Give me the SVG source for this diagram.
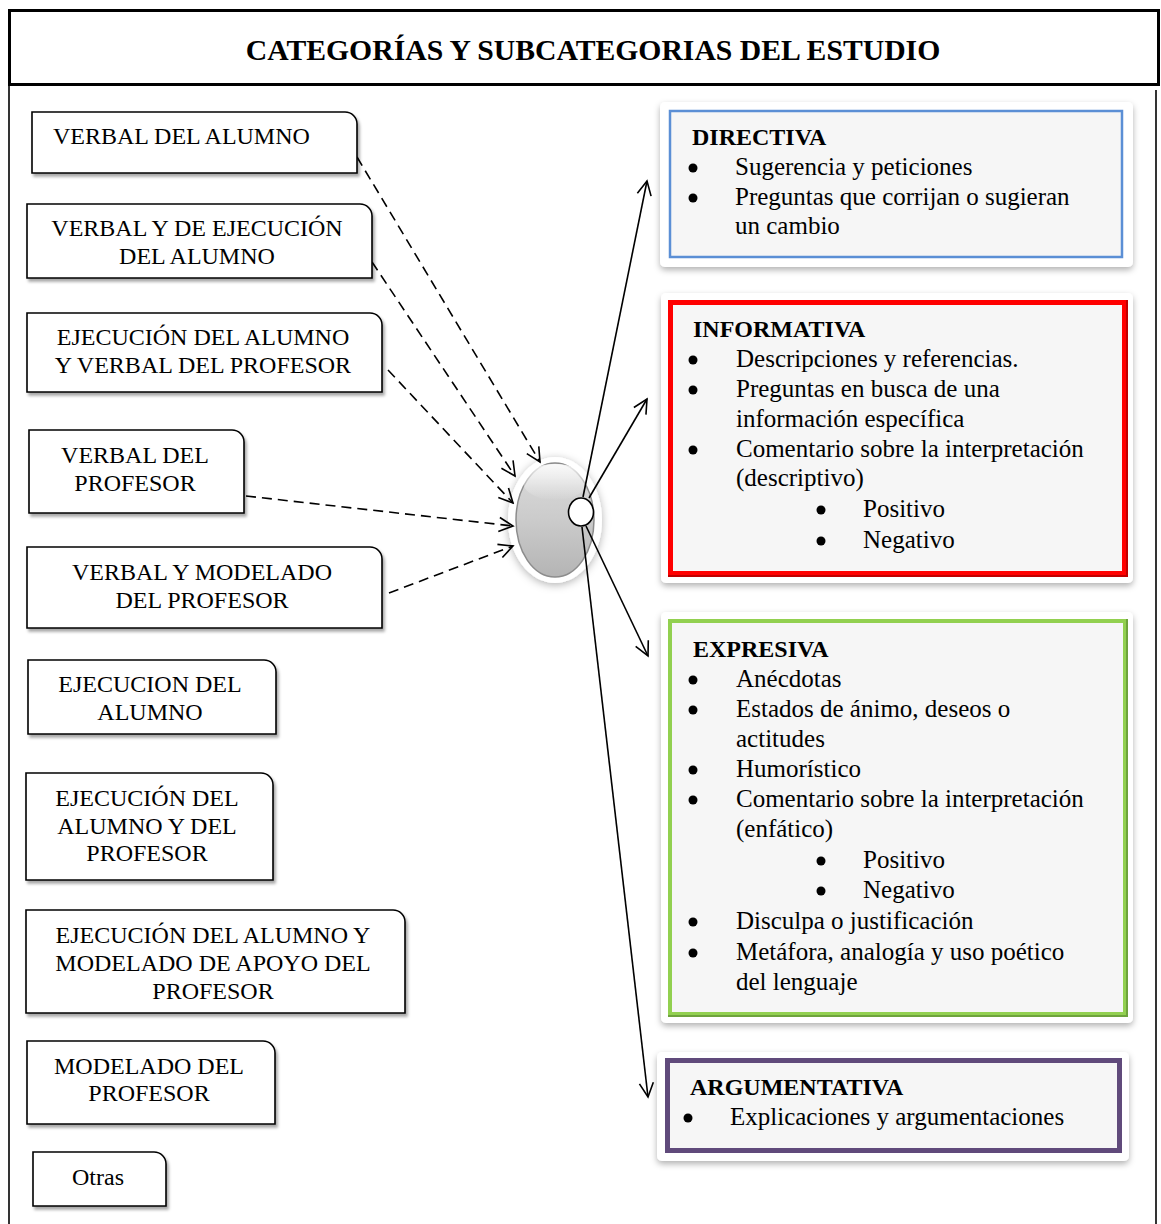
<svg xmlns="http://www.w3.org/2000/svg" width="1161" height="1224" viewBox="0 0 1161 1224">
<defs>
<style>
.lbl{font-family:"Liberation Serif","Times New Roman",serif;font-size:24px;fill:#000;text-anchor:middle}
.lbox{fill:#fff;stroke:#000;stroke-width:1.6;filter:url(#sh)}
.hd{font-family:"Liberation Serif","Times New Roman",serif;font-size:24px;font-weight:bold;fill:#000}
.bd{font-family:"Liberation Serif","Times New Roman",serif;font-size:25px;fill:#000}
.panel{fill:#fff;filter:url(#psh)}
.dash{fill:none;stroke:#000;stroke-width:1.6;stroke-dasharray:10 6;marker-end:url(#ah)}
.sol{fill:none;stroke:#000;stroke-width:1.6;marker-end:url(#ah)}
</style>
<filter id="sh" x="-10%" y="-10%" width="125%" height="130%"><feDropShadow dx="2" dy="3" stdDeviation="1.6" flood-color="#000" flood-opacity="0.35"/></filter>
<filter id="psh" x="-10%" y="-10%" width="120%" height="130%"><feDropShadow dx="0" dy="3" stdDeviation="3" flood-color="#000" flood-opacity="0.3"/></filter>
<filter id="glow" x="-40%" y="-40%" width="180%" height="180%"><feDropShadow dx="0" dy="2" stdDeviation="4" flood-color="#000" flood-opacity="0.3"/></filter>
<linearGradient id="gball" x1="0" y1="0" x2="0" y2="1">
<stop offset="0" stop-color="#dcdcdc"/>
<stop offset="0.5" stop-color="#cbcbcb"/>
<stop offset="1" stop-color="#b4b4b4"/>
</linearGradient>
<linearGradient id="hl" x1="0" y1="0" x2="0" y2="1">
<stop offset="0" stop-color="#fff" stop-opacity="0.85"/>
<stop offset="1" stop-color="#fff" stop-opacity="0"/>
</linearGradient>
<marker id="ah" markerUnits="userSpaceOnUse" markerWidth="18" markerHeight="18" viewBox="0 0 18 18" refX="16" refY="9" orient="auto">
<path d="M2,2 L16,9 L2,16" fill="none" stroke="#000" stroke-width="1.6" stroke-dasharray="none"/>
</marker>
</defs>
<rect width="1161" height="1224" fill="#fff"/>

<g id="frame">
<rect x="9.5" y="10.5" width="1149" height="74" fill="#fff" stroke="#000" stroke-width="3"/>
<line x1="9" y1="85" x2="9" y2="1224" stroke="#000" stroke-width="1.6"/>
<line x1="1156" y1="90" x2="1156" y2="1224" stroke="#000" stroke-width="1.6"/>
<text x="593" y="60" style="font-family:'Liberation Serif','Times New Roman',serif;font-size:29.7px;font-weight:bold;text-anchor:middle">CATEGORÍAS Y SUBCATEGORIAS DEL ESTUDIO</text>
</g>

<g id="hub">
<ellipse cx="555" cy="520" rx="47" ry="63" fill="#fff" filter="url(#glow)"/>
<ellipse cx="555" cy="520" rx="39" ry="57" fill="url(#gball)" stroke="#8c8c8c" stroke-width="1.5"/>
<ellipse cx="555" cy="482" rx="32" ry="18" fill="url(#hl)"/>
</g>

<g id="connectors">
<path class="dash" d="M357,157 L540,462"/>
<path class="dash" d="M372,262 L515,476"/>
<path class="dash" d="M388,370 L513,503"/>
<path class="dash" d="M246,496 L513,526"/>
<path class="dash" d="M389,593 L513,546"/>
<path class="sol" d="M583,497 L647,181"/>
<path class="sol" d="M589,498 L647,399"/>
<path class="sol" d="M586,526 L648,656"/>
<path class="sol" d="M582,527 L648,1097"/>
</g>

<g id="hubport">
<ellipse cx="581" cy="512" rx="12.5" ry="14" fill="#fff" stroke="#000" stroke-width="1.6"/>
</g>

<g id="n1"><path class="lbox" d="M32,112 H345 A12,12 0 0 1 357,124 V173 H32 Z"/><text class="lbl" x="53" y="144" style="text-anchor:start">VERBAL DEL ALUMNO</text></g>
<g id="n2"><path class="lbox" d="M27,204 H360 A12,12 0 0 1 372,216 V278 H27 Z"/><text class="lbl" x="197" y="236">VERBAL Y DE EJECUCIÓN</text><text class="lbl" x="197" y="264">DEL ALUMNO</text></g>
<g id="n3"><path class="lbox" d="M27,313 H370 A12,12 0 0 1 382,325 V392 H27 Z"/><text class="lbl" x="203" y="345">EJECUCIÓN DEL ALUMNO</text><text class="lbl" x="203" y="373">Y VERBAL DEL PROFESOR</text></g>
<g id="n4"><path class="lbox" d="M29,430 H232 A12,12 0 0 1 244,442 V513 H29 Z"/><text class="lbl" x="135" y="463">VERBAL DEL</text><text class="lbl" x="135" y="491">PROFESOR</text></g>
<g id="n5"><path class="lbox" d="M27,547 H370 A12,12 0 0 1 382,559 V628 H27 Z"/><text class="lbl" x="202" y="580">VERBAL Y MODELADO</text><text class="lbl" x="202" y="608">DEL PROFESOR</text></g>
<g id="n6"><path class="lbox" d="M28,660 H264 A12,12 0 0 1 276,672 V734 H28 Z"/><text class="lbl" x="150" y="692">EJECUCION DEL</text><text class="lbl" x="150" y="720">ALUMNO</text></g>
<g id="n7"><path class="lbox" d="M26,773 H261 A12,12 0 0 1 273,785 V880 H26 Z"/><text class="lbl" x="147" y="806">EJECUCIÓN DEL</text><text class="lbl" x="147" y="834">ALUMNO Y DEL</text><text class="lbl" x="147" y="861">PROFESOR</text></g>
<g id="n8"><path class="lbox" d="M26,910 H393 A12,12 0 0 1 405,922 V1013 H26 Z"/><text class="lbl" x="213" y="943">EJECUCIÓN DEL ALUMNO Y</text><text class="lbl" x="213" y="971">MODELADO DE APOYO DEL</text><text class="lbl" x="213" y="999">PROFESOR</text></g>
<g id="n9"><path class="lbox" d="M27,1041 H263 A12,12 0 0 1 275,1053 V1124 H27 Z"/><text class="lbl" x="149" y="1074">MODELADO DEL</text><text class="lbl" x="149" y="1101">PROFESOR</text></g>
<g id="n10"><path class="lbox" d="M33,1152 H154 A12,12 0 0 1 166,1164 V1206 H33 Z"/><text class="lbl" x="98" y="1185">Otras</text></g>

<g id="directiva">
<rect class="panel" x="660" y="102" width="473" height="165" rx="5"/>
<rect x="670" y="111" width="452" height="146" fill="#f6f6f6" stroke="#5b8fd5" stroke-width="2.5"/>
<text class="hd" x="692" y="145">DIRECTIVA</text>
<circle cx="693" cy="168" r="4.5"/><text class="bd" x="735" y="175">Sugerencia y peticiones</text>
<circle cx="693" cy="198" r="4.5"/><text class="bd" x="735" y="205">Preguntas que corrijan o sugieran</text>
<text class="bd" x="735" y="234">un cambio</text>
</g>

<g id="informativa">
<rect class="panel" x="661" y="293" width="472" height="290" rx="5"/>
<rect x="670.5" y="302.5" width="454" height="271" fill="#f6f6f6" stroke="#ff0000" stroke-width="5"/>
<path d="M668,576 H1127 V300" fill="none" stroke="#c00000" stroke-width="2"/>
<text class="hd" x="693" y="337">INFORMATIVA</text>
<circle cx="693" cy="360" r="4.5"/><text class="bd" x="736" y="367">Descripciones y referencias.</text>
<circle cx="693" cy="390" r="4.5"/><text class="bd" x="736" y="397">Preguntas en busca de una</text>
<text class="bd" x="736" y="427">información específica</text>
<circle cx="693" cy="450" r="4.5"/><text class="bd" x="736" y="457">Comentario sobre la interpretación</text>
<text class="bd" x="736" y="486">(descriptivo)</text>
<circle cx="821" cy="510" r="4.5"/><text class="bd" x="863" y="517">Positivo</text>
<circle cx="821" cy="541" r="4.5"/><text class="bd" x="863" y="548">Negativo</text>
</g>

<g id="expresiva">
<rect class="panel" x="661" y="612" width="472" height="411" rx="5"/>
<rect x="670" y="621" width="455" height="393" fill="#f6f6f6" stroke="#92d050" stroke-width="4"/>
<path d="M668,1016 H1127 V619" fill="none" stroke="#6ea33c" stroke-width="2"/>
<text class="hd" x="693" y="657">EXPRESIVA</text>
<circle cx="693" cy="680" r="4.5"/><text class="bd" x="736" y="687">Anécdotas</text>
<circle cx="693" cy="710" r="4.5"/><text class="bd" x="736" y="717">Estados de ánimo, deseos o</text>
<text class="bd" x="736" y="747">actitudes</text>
<circle cx="693" cy="770" r="4.5"/><text class="bd" x="736" y="777">Humorístico</text>
<circle cx="693" cy="800" r="4.5"/><text class="bd" x="736" y="807">Comentario sobre la interpretación</text>
<text class="bd" x="736" y="837">(enfático)</text>
<circle cx="821" cy="861" r="4.5"/><text class="bd" x="863" y="868">Positivo</text>
<circle cx="821" cy="891" r="4.5"/><text class="bd" x="863" y="898">Negativo</text>
<circle cx="693" cy="922" r="4.5"/><text class="bd" x="736" y="929">Disculpa o justificación</text>
<circle cx="693" cy="953" r="4.5"/><text class="bd" x="736" y="960">Metáfora, analogía y uso poético</text>
<text class="bd" x="736" y="990">del lenguaje</text>
</g>

<g id="argumentativa">
<rect class="panel" x="657" y="1052" width="472" height="109" rx="5"/>
<rect x="667.5" y="1060.5" width="452" height="90" fill="#f6f6f6" stroke="#604a7b" stroke-width="5"/>
<text class="hd" x="690" y="1095">ARGUMENTATIVA</text>
<circle cx="688" cy="1118" r="4.5"/><text class="bd" x="730" y="1125">Explicaciones y argumentaciones</text>
</g>
</svg>
